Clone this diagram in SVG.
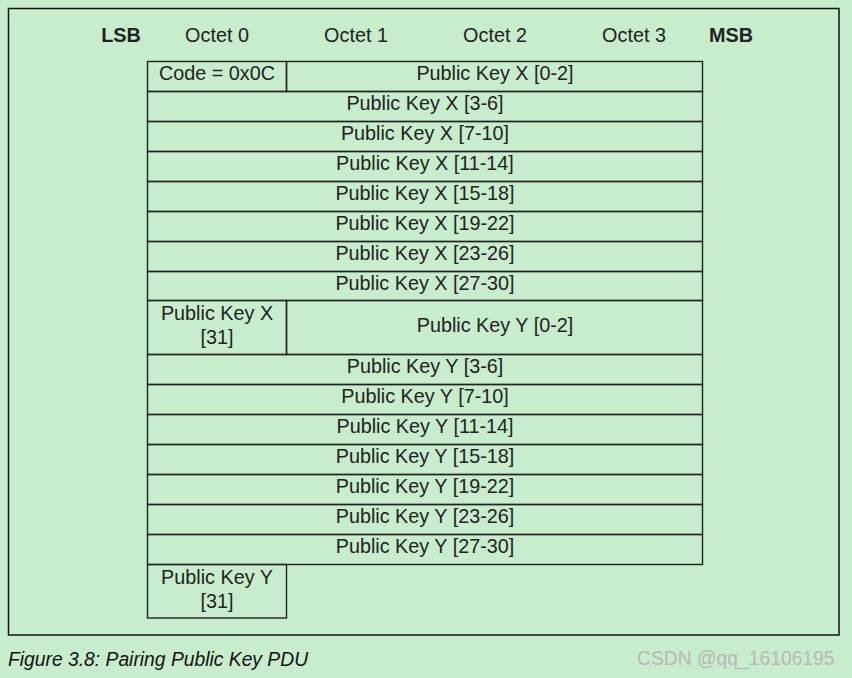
<svg xmlns="http://www.w3.org/2000/svg" width="852" height="678" viewBox="0 0 852 678">
<style>
.t{font-family:"Liberation Sans",Arial,sans-serif;font-size:19.8px;fill:#222;text-anchor:middle}
.b{font-weight:bold}
.c{fill:none;stroke:#222;stroke-width:1.4}
.cap{font-family:"Liberation Sans",Arial,sans-serif;font-size:19.3px;font-style:italic;fill:#111}
.wm{font-family:"Liberation Sans",Arial,sans-serif;font-size:19.3px;fill:#b8b8b8}
</style>
<rect x="0" y="0" width="852" height="678" fill="#c8edcd"/>
<rect x="8.5" y="8.5" width="830.5" height="626.5" fill="none" stroke="#111" stroke-width="1.5"/>
<g id="header">
<text class="t b" x="121" y="41.5">LSB</text>
<text class="t" x="217" y="41.5">Octet 0</text>
<text class="t" x="356" y="41.5">Octet 1</text>
<text class="t" x="495" y="41.5">Octet 2</text>
<text class="t" x="634" y="41.5">Octet 3</text>
<text class="t b" x="731" y="41.5">MSB</text>
</g>
<g id="r0"><rect class="c" x="147.5" y="61.5" width="139" height="30"/><text class="t" x="217" y="80">Code = 0x0C</text>
<rect class="c" x="286.5" y="61.5" width="416" height="30"/><text class="t" x="495" y="80">Public Key X [0-2]</text></g>
<g id="r1"><rect class="c" x="147.5" y="91.5" width="555" height="30"/><text class="t" x="425" y="110">Public Key X [3-6]</text></g>
<g id="r2"><rect class="c" x="147.5" y="121.5" width="555" height="30"/><text class="t" x="425" y="140">Public Key X [7-10]</text></g>
<g id="r3"><rect class="c" x="147.5" y="151.5" width="555" height="30"/><text class="t" x="425" y="170">Public Key X [11-14]</text></g>
<g id="r4"><rect class="c" x="147.5" y="181.5" width="555" height="30"/><text class="t" x="425" y="200">Public Key X [15-18]</text></g>
<g id="r5"><rect class="c" x="147.5" y="211.5" width="555" height="30"/><text class="t" x="425" y="230">Public Key X [19-22]</text></g>
<g id="r6"><rect class="c" x="147.5" y="241.5" width="555" height="30"/><text class="t" x="425" y="260">Public Key X [23-26]</text></g>
<g id="r7"><rect class="c" x="147.5" y="271.5" width="555" height="29"/><text class="t" x="425" y="290">Public Key X [27-30]</text></g>
<g id="r8"><rect class="c" x="147.5" y="300.5" width="139" height="54"/><text class="t" x="217" y="320">Public Key X</text><text class="t" x="217" y="343.5">[31]</text>
<rect class="c" x="286.5" y="300.5" width="416" height="54"/><text class="t" x="495" y="332">Public Key Y [0-2]</text></g>
<g id="r9"><rect class="c" x="147.5" y="354.5" width="555" height="30"/><text class="t" x="425" y="373">Public Key Y [3-6]</text></g>
<g id="r10"><rect class="c" x="147.5" y="384.5" width="555" height="30"/><text class="t" x="425" y="403">Public Key Y [7-10]</text></g>
<g id="r11"><rect class="c" x="147.5" y="414.5" width="555" height="30"/><text class="t" x="425" y="433">Public Key Y [11-14]</text></g>
<g id="r12"><rect class="c" x="147.5" y="444.5" width="555" height="30"/><text class="t" x="425" y="463">Public Key Y [15-18]</text></g>
<g id="r13"><rect class="c" x="147.5" y="474.5" width="555" height="30"/><text class="t" x="425" y="493">Public Key Y [19-22]</text></g>
<g id="r14"><rect class="c" x="147.5" y="504.5" width="555" height="30"/><text class="t" x="425" y="523">Public Key Y [23-26]</text></g>
<g id="r15"><rect class="c" x="147.5" y="534.5" width="555" height="30"/><text class="t" x="425" y="553">Public Key Y [27-30]</text></g>
<g id="r16"><rect class="c" x="147.5" y="564.5" width="139" height="53.5"/><text class="t" x="217" y="583.5">Public Key Y</text><text class="t" x="217" y="607.5">[31]</text></g>
<g id="connectors"></g>
<text class="cap" x="8" y="666">Figure 3.8:  Pairing Public Key PDU</text>
<text class="wm" x="637" y="665">CSDN @qq_16106195</text>
</svg>
